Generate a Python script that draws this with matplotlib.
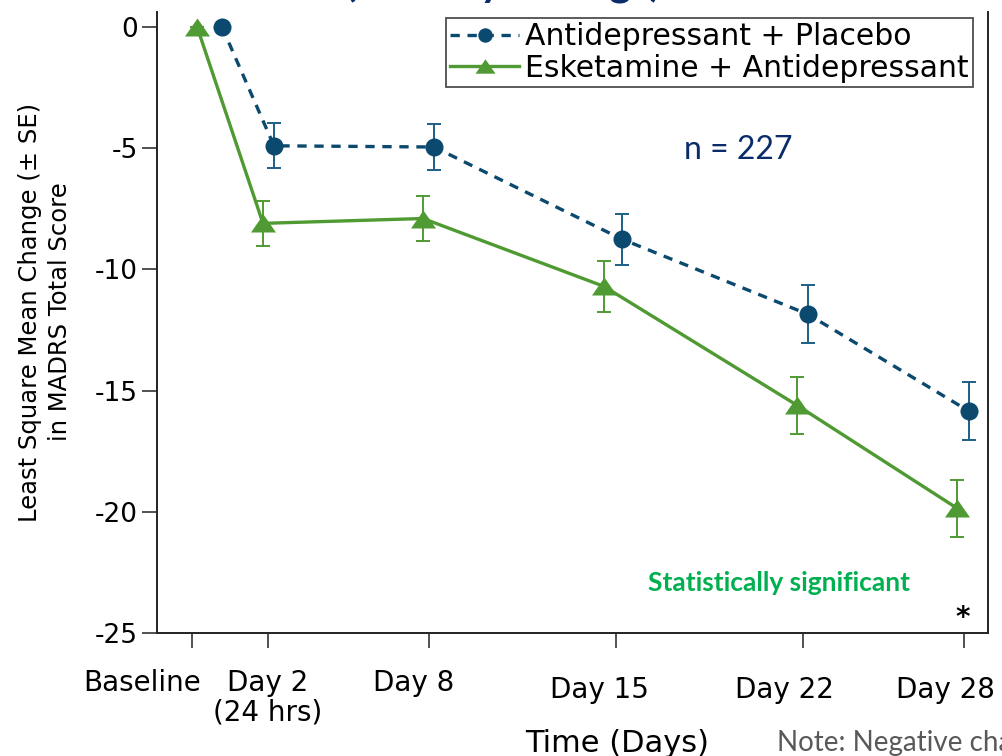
import matplotlib
matplotlib.use("Agg")
import matplotlib.pyplot as plt
import matplotlib.transforms as mtransforms

# time axis (days); baseline sits a little left of day 0 on the original
tick_days = [-0.84, 2, 8, 15, 22, 28]
tick_labels = ["Baseline", "Day 2\n(24 hrs)", "Day 8", "Day 15", "Day 22", "Day 28"]

# each series is drawn slightly jittered around the visit day
placebo_days = [0.28, 2.22, 8.2, 15.22, 22.17, 28.19]
placebo_mean = [0, -4.9, -4.95, -8.75, -11.85, -15.85]
placebo_se = [0, 0.92, 0.93, 1.05, 1.2, 1.2]

esk_days = [-0.65, 1.81, 7.79, 14.55, 21.76, 27.74]
esk_mean = [0, -8.1, -7.9, -10.7, -15.6, -19.85]
esk_se = [0, 0.93, 0.93, 1.05, 1.18, 1.18]

y_ticks = [0, -5, -10, -15, -20, -25]

NAVY = "#0b4a6e"
NAVY_ERR = "#1d5f86"
GREEN = "#4f9a32"
TEXT_NAVY = "#0a2c6b"

plt.rcParams["font.family"] = ["DejaVu Sans"]
plt.rcParams["axes.unicode_minus"] = False

fig = plt.figure(figsize=(10.02, 7.56), dpi=100)
ax = fig.add_axes([157 / 1002, 1 - 633 / 756, 831 / 1002, 621 / 756])

ax.errorbar(placebo_days, placebo_mean, yerr=placebo_se, fmt="none",
            ecolor=NAVY_ERR, elinewidth=1.4, capsize=5, capthick=1.4, zorder=2)
ax.errorbar(esk_days, esk_mean, yerr=esk_se, fmt="none",
            ecolor=GREEN, elinewidth=1.4, capsize=5, capthick=1.4, zorder=2)

tri = [(-1, -0.72), (1, -0.72), (0, 0.72)]
ax.plot(placebo_days, placebo_mean, color=NAVY, lw=2.4, ls=(0, (2.8, 2.3)),
        marker="o", ms=13, markeredgewidth=0, zorder=3,
        label="Antidepressant + Placebo")
ax.plot(esk_days, esk_mean, color=GREEN, lw=2.4, ls="-",
        marker=tri, ms=18, markeredgewidth=0, zorder=3,
        label="Esketamine + Antidepressant")

ax.set_xlim(-2.15, 28.9)
ax.set_ylim(-25, 0.62)
ax.set_yticks(y_ticks)
ax.set_xticks(tick_days)
ax.set_xticklabels(tick_labels, fontsize=20, linespacing=1.05)

for side in ["left", "bottom", "right"]:
    ax.spines[side].set_linewidth(1.4)
    ax.spines[side].set_color("#222222")
ax.spines["top"].set_visible(False)
ax.tick_params(axis="both", direction="out", length=11, width=1.1, color="#222222")
ax.tick_params(axis="y", labelsize=19, pad=3)
ax.tick_params(axis="x", pad=15)

# the original labels were hand placed, nudge them to match
label_shift_px = [(-50, 0), (0, 0), (-15, 0), (-17, -7), (-19, -7), (-18, -7)]
for lab, (dx, dy) in zip(ax.get_xticklabels(), label_shift_px):
    shift = mtransforms.ScaledTranslation(dx / 100, dy / 100, fig.dpi_scale_trans)
    lab.set_transform(lab.get_transform() + shift)

fig.text(45 / 1002, 1 - 312 / 756,
         "Least Square Mean Change (± SE)\nin MADRS Total Score",
         rotation=90, ha="center", va="center", multialignment="center",
         fontsize=17.5, linespacing=1.3)

fig.text(617 / 1002, 1 - 743 / 756, "Time (Days)", ha="center", va="center",
         fontsize=22)

leg = ax.legend(loc="upper right", bbox_to_anchor=(973 / 1002, 1 - 18 / 756),
                bbox_transform=fig.transFigure, borderaxespad=0,
                fontsize=21.5, frameon=True, fancybox=False, markerscale=0.8,
                handlelength=2.3, handletextpad=0.2, labelspacing=0.08,
                borderpad=0.15)
leg.get_frame().set_edgecolor("#222222")
leg.get_frame().set_linewidth(1.3)

# title sits mostly above the visible area, only descenders show
fig.text(345 / 1002, 1 + 5 / 756, "(Primary Ratings)", ha="left", va="baseline",
         fontsize=30, fontweight="bold", color=TEXT_NAVY, family=["Lato", "DejaVu Sans"])

fig.text(738 / 1002, 1 - 150 / 756, "n = 227", ha="center", va="center",
         fontsize=23, color=TEXT_NAVY, family=["Lato", "DejaVu Sans"])

fig.text(779 / 1002, 1 - 583 / 756, "Statistically significant", ha="center",
         va="center", fontsize=19, fontweight="bold", color="#00b050",
         family=["Lato", "DejaVu Sans"])

fig.text(963 / 1002, 1 - 618 / 756, "*", ha="center", va="center",
         fontsize=20, fontweight="bold", color="black")

fig.text(777 / 1002, 1 - 743 / 756, "Note: Negative change indicates improvement",
         ha="left", va="center", fontsize=20, color="#595959",
         family=["Lato", "DejaVu Sans"])

fig.savefig("out.png", dpi=100)
